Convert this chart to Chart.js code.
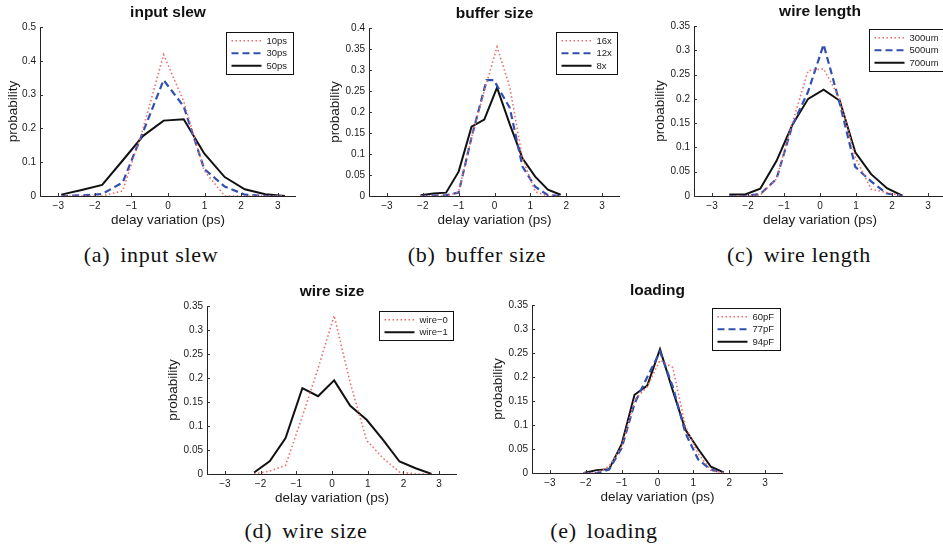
<!DOCTYPE html>
<html><head><meta charset="utf-8">
<script src="https://cdn.jsdelivr.net/npm/chart.js@4.4.0/dist/chart.umd.min.js"></script>
<style>
html,body{margin:0;padding:0;background:#fff;width:943px;height:545px;overflow:hidden;position:relative}
canvas{position:absolute}
.cap{position:absolute;font-family:"Liberation Serif","Times New Roman",serif;font-size:22px;letter-spacing:0.7px;line-height:26px;color:#111;white-space:nowrap;transform:translateX(-50%)}
.cap span{margin-right:10px}
</style></head><body>
<canvas id="ca"></canvas><canvas id="cb"></canvas><canvas id="cc"></canvas><canvas id="cd"></canvas><canvas id="ce"></canvas>
<div class="cap" style="left:151px;top:242px"><span>(a)</span>input slew</div>
<div class="cap" style="left:477px;top:242px"><span>(b)</span>buffer size</div>
<div class="cap" style="left:799px;top:242px"><span>(c)</span>wire length</div>
<div class="cap" style="left:306px;top:518px"><span>(d)</span>wire size</div>
<div class="cap" style="left:604px;top:518px"><span>(e)</span>loading</div>
<script>
// ---- tick labels ----
const xTickValues = [-3, -2, -1, 0, 1, 2, 3];
const yTicksA = [0, 0.1, 0.2, 0.3, 0.4, 0.5];
const yTicksB = [0, 0.05, 0.1, 0.15, 0.2, 0.25, 0.3, 0.35, 0.4];
const yTicksC = [0, 0.05, 0.1, 0.15, 0.2, 0.25, 0.3, 0.35];

// ---- (a) input slew ----
const aX    = [-2.92, -2.36, -1.8, -1.24, -0.68, -0.12, 0.43, 0.99, 1.55, 2.1, 2.66, 3.2];
const a10ps = [0, 0, 0, 0.015, 0.2, 0.418, 0.28, 0.075, 0, 0, 0, 0];
const a30ps = [0, 0.002, 0.006, 0.04, 0.19, 0.343, 0.265, 0.08, 0.028, 0.004, 0, 0];
const a50ps = [0.004, 0.018, 0.033, 0.105, 0.178, 0.223, 0.227, 0.126, 0.056, 0.02, 0.005, 0];

// ---- (b) buffer size ----
const bX    = [-2.06, -1.7, -1.35, -1.0, -0.64, -0.285, 0.07, 0.425, 0.78, 1.135, 1.49, 1.845];
const b12X  = [-2.06, -1.7, -1.35, -1.0, -0.64, -0.22, -0.02, 0.425, 0.78, 1.135, 1.49, 1.845];
const b16x  = [0, 0, 0, 0.01, 0.14, 0.25, 0.355, 0.26, 0.09, 0.01, 0, 0];
const b12x  = [0, 0.001, 0.002, 0.008, 0.14, 0.276, 0.276, 0.21, 0.07, 0.022, 0.002, 0];
const b8x   = [0.002, 0.006, 0.008, 0.058, 0.165, 0.182, 0.258, 0.171, 0.09, 0.046, 0.015, 0.003];

// ---- (c) wire length ----
const cX     = [-2.52, -2.08, -1.66, -1.21, -0.77, -0.33, 0.1, 0.55, 0.98, 1.42, 1.86, 2.3];
const c300um = [0, 0, 0.002, 0.035, 0.15, 0.258, 0.262, 0.2, 0.08, 0.014, 0.007, 0];
const c500um = [0, 0, 0.004, 0.035, 0.145, 0.215, 0.312, 0.19, 0.06, 0.03, 0.005, 0];
const c700um = [0.003, 0.003, 0.015, 0.072, 0.146, 0.2, 0.219, 0.196, 0.09, 0.045, 0.016, 0];

// ---- (d) wire size ----
const dX    = [-2.18, -1.74, -1.3, -0.83, -0.39, 0.06, 0.51, 0.97, 1.43, 1.89, 2.34, 2.79];
const dWire0 = [0, 0.006, 0.018, 0.12, 0.22, 0.33, 0.19, 0.07, 0.033, 0.004, 0, 0];
const dWire1 = [0.003, 0.027, 0.075, 0.179, 0.162, 0.195, 0.142, 0.113, 0.071, 0.026, 0.012, 0];

// ---- (e) loading ----
const eX    = [-2.06, -1.7, -1.35, -1.0, -0.64, -0.285, 0.07, 0.425, 0.78, 1.135, 1.49, 1.845];
const e60pF = [0, 0, 0.014, 0.055, 0.152, 0.18, 0.235, 0.22, 0.097, 0.04, 0.006, 0];
const e77pF = [0, 0, 0.007, 0.052, 0.145, 0.2, 0.253, 0.18, 0.083, 0.028, 0.007, 0];
const e94pF = [0, 0.006, 0.008, 0.06, 0.163, 0.182, 0.258, 0.172, 0.09, 0.05, 0.013, 0.001];

const FONT = '"Liberation Sans", Arial, Helvetica, sans-serif';
const STY = {
  dot:   {borderColor: '#f06a6a', borderWidth: 1.6, borderDash: [1.5, 2.5]},
  dash:  {borderColor: '#3150b0', borderWidth: 2.2, borderDash: [7, 4]},
  solid: {borderColor: '#111111', borderWidth: 2, borderDash: []}
};

const innerTicks = {
  id: 'innerTicks',
  afterDraw(chart) {
    const {ctx, chartArea: ca, scales: {x, y}} = chart;
    ctx.save(); ctx.strokeStyle = '#333'; ctx.lineWidth = 1; ctx.beginPath();
    x.ticks.forEach(t => { const px = Math.round(x.getPixelForValue(t.value)) + 0.5; ctx.moveTo(px, ca.bottom); ctx.lineTo(px, ca.bottom - 3); });
    y.ticks.forEach(t => { const py = Math.round(y.getPixelForValue(t.value)) + 0.5; ctx.moveTo(ca.left, py); ctx.lineTo(ca.left + 3, py); });
    ctx.stroke(); ctx.restore();
  }
};

const boxLegend = {
  id: 'boxLegend',
  afterDatasetsDraw(chart, args, opts) {
    const {ctx, chartArea: ca} = chart;
    const ds = chart.data.datasets;
    ctx.save();
    ctx.font = '9.5px ' + FONT;
    let tw = 0; ds.forEach(d => tw = Math.max(tw, ctx.measureText(d.label).width));
    const rowH = 12.5;
    const w = Math.round(5 + 30 + 5 + tw + 6);
    const h = Math.round(ds.length * rowH + 4);
    const left = Math.round(ca.right - opts.right - w) + 0.5;
    const top = Math.round(ca.top + opts.top) + 0.5;
    ctx.fillStyle = '#fff'; ctx.fillRect(left, top, w, h);
    ctx.setLineDash([]); ctx.strokeStyle = '#111'; ctx.lineWidth = 1; ctx.strokeRect(left, top, w, h);
    ds.forEach((d, i) => {
      const cy = top + 2 + rowH * (i + 0.5);
      ctx.beginPath(); ctx.setLineDash(d.borderDash || []); ctx.strokeStyle = d.borderColor; ctx.lineWidth = d.borderWidth;
      ctx.moveTo(left + 5, cy); ctx.lineTo(left + 35, cy); ctx.stroke();
      ctx.setLineDash([]); ctx.fillStyle = '#222'; ctx.textBaseline = 'middle'; ctx.textAlign = 'left';
      ctx.fillText(d.label, left + 40, cy + 0.5);
    });
    ctx.restore();
  }
};

function makeChart(id, pos, title, yTicks, yMax, series) {
  const cv = document.getElementById(id);
  const TH = 27, XH = 32;
  cv.width = pos.R - pos.L + pos.yw;
  cv.height = pos.B - pos.T + TH + XH;
  cv.style.left = (pos.L - pos.yw) + 'px';
  cv.style.top = (pos.T - TH) + 'px';
  new Chart(cv, {
    type: 'line',
    data: {
      datasets: series.map(s => Object.assign({
        label: s.label,
        data: s.x.map((v, i) => ({x: v, y: s.y[i]})),
        pointRadius: 0, tension: 0, fill: false, spanGaps: true
      }, STY[s.style]))
    },
    options: {
      responsive: false, animation: false, devicePixelRatio: 1, events: [],
      layout: {padding: 0},
      plugins: {
        legend: {display: false}, tooltip: {enabled: false},
        title: {display: true, text: title, fullSize: false, color: '#111',
          font: {family: FONT, size: 15.5, weight: 'bold', lineHeight: '16px'}, padding: {top: 5, bottom: 6}},
        boxLegend: {right: pos.lr, top: pos.lt}
      },
      scales: {
        x: {
          type: 'linear', min: -3.5, max: 3.5,
          afterBuildTicks: s => { s.ticks = xTickValues.map(v => ({value: v})); },
          afterFit: s => { s.height = XH; },
          grid: {display: false, drawTicks: false},
          border: {display: true, color: '#222', width: 1},
          ticks: {color: '#1a1a1a', font: {family: FONT, size: 10}, padding: 4, maxRotation: 0, autoSkip: false,
            callback: v => String(v).replace('-', '\u2212')},
          title: {display: true, text: 'delay variation (ps)', color: '#1a1a1a',
            font: {family: FONT, size: 13.5, lineHeight: '16px'}, padding: {top: 0, bottom: 0}}
        },
        y: {
          type: 'linear', min: 0, max: yMax,
          afterBuildTicks: s => { s.ticks = yTicks.map(v => ({value: v})); },
          afterFit: s => { s.width = pos.yw; },
          grid: {display: false, drawTicks: false},
          border: {display: true, color: '#222', width: 1},
          ticks: {color: '#1a1a1a', font: {family: FONT, size: 10}, padding: 4, autoSkip: false,
            callback: v => String(+(+v).toFixed(2))},
          title: {display: true, text: 'probability', color: '#1a1a1a',
            font: {family: FONT, size: 13.5, lineHeight: '16px'}, padding: {top: 5, bottom: 0}}
        }
      }
    },
    plugins: [innerTicks, boxLegend]
  });
}

makeChart('ca', {L: 40, R: 296, T: 27, B: 196, yw: 40, lr: 3, lt: 5}, 'input slew', yTicksA, 0.5, [
  {label: '10ps', x: aX, y: a10ps, style: 'dot'},
  {label: '30ps', x: aX, y: a30ps, style: 'dash'},
  {label: '50ps', x: aX, y: a50ps, style: 'solid'}
]);
makeChart('cb', {L: 369, R: 620, T: 28, B: 196, yw: 47, lr: 3, lt: 4}, 'buffer size', yTicksB, 0.4, [
  {label: '16x', x: bX, y: b16x, style: 'dot'},
  {label: '12x', x: b12X, y: b12x, style: 'dash'},
  {label: '8x', x: bX, y: b8x, style: 'solid'}
]);
makeChart('cc', {L: 694, R: 946, T: 26, B: 196, yw: 47, lr: 2, lt: 3}, 'wire length', yTicksC, 0.35, [
  {label: '300um', x: cX, y: c300um, style: 'dot'},
  {label: '500um', x: cX, y: c500um, style: 'dash'},
  {label: '700um', x: cX, y: c700um, style: 'solid'}
]);
makeChart('cd', {L: 207, R: 457, T: 306, B: 474, yw: 47, lr: 4, lt: 5}, 'wire size', yTicksC, 0.35, [
  {label: 'wire\u22120', x: dX, y: dWire0, style: 'dot'},
  {label: 'wire\u22121', x: dX, y: dWire1, style: 'solid'}
]);
makeChart('ce', {L: 532, R: 783, T: 305, B: 473, yw: 47, lr: 3, lt: 3}, 'loading', yTicksC, 0.35, [
  {label: '60pF', x: eX, y: e60pF, style: 'dot'},
  {label: '77pF', x: eX, y: e77pF, style: 'dash'},
  {label: '94pF', x: eX, y: e94pF, style: 'solid'}
]);
</script>
</body></html>
